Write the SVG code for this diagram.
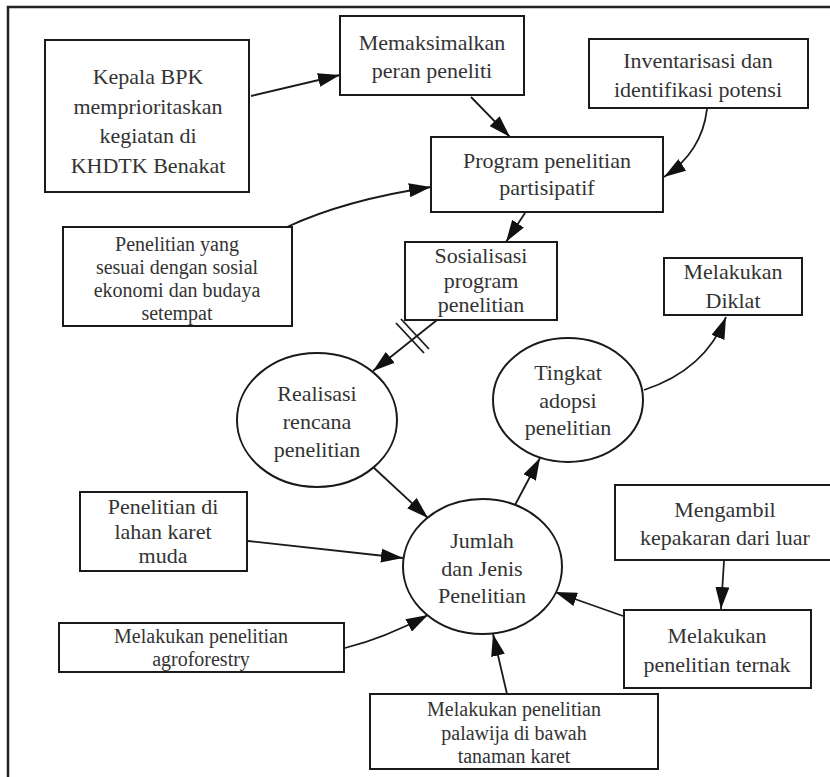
<svg xmlns="http://www.w3.org/2000/svg" width="830" height="777" viewBox="0 0 830 777">
<defs>
<style>
.box{fill:#fff;stroke:#1a1a1a;stroke-width:2}
.t{font-family:"Liberation Serif","Times New Roman",serif;font-size:22px;fill:#333;text-anchor:middle}
.s{font-size:20px}
.c{fill:none;stroke:#1a1a1a;stroke-width:1.8}
.frame{fill:none;stroke:#222;stroke-width:2.5}
</style>
<marker id="ah" markerUnits="userSpaceOnUse" markerWidth="22" markerHeight="14" refX="22" refY="7" orient="auto" viewBox="0 0 22 14">
<path d="M0,0 L22,7 L0,14 z" fill="#111"/>
</marker>
</defs>
<rect width="830" height="777" fill="#fff"/>
<path class="frame" d="M8,777 V7 H830"/>

<g id="connectors">
<line class="c" x1="251" y1="96" x2="340" y2="75" marker-end="url(#ah)"/>
<line class="c" x1="471" y1="97" x2="510" y2="137" marker-end="url(#ah)"/>
<path class="c" d="M707,109 Q702,152 664,177" marker-end="url(#ah)"/>
<path class="c" d="M287,227 Q345,200 431,187" marker-end="url(#ah)"/>
<line class="c" x1="525" y1="213" x2="506" y2="242" marker-end="url(#ah)"/>
<line class="c" x1="437" y1="320" x2="373" y2="371" marker-end="url(#ah)"/>
<line class="c" x1="396" y1="323" x2="424" y2="353"/>
<line class="c" x1="401" y1="319" x2="429" y2="349"/>
<line class="c" x1="373" y1="467" x2="428" y2="518" marker-end="url(#ah)"/>
<line class="c" x1="515" y1="505" x2="540" y2="458" marker-end="url(#ah)"/>
<path class="c" d="M644,390 Q705,370 726,317" marker-end="url(#ah)"/>
<line class="c" x1="248" y1="541" x2="403" y2="558" marker-end="url(#ah)"/>
<path class="c" d="M345,648 Q385,638 428,615" marker-end="url(#ah)"/>
<line class="c" x1="724" y1="561" x2="721" y2="609" marker-end="url(#ah)"/>
<line class="c" x1="623" y1="616" x2="555" y2="592" marker-end="url(#ah)"/>
<line class="c" x1="507" y1="694" x2="493" y2="634" marker-end="url(#ah)"/>
</g>

<g id="kepala">
<rect class="box" x="45" y="40" width="204" height="152"/>
<text class="t" x="148" y="84">Kepala BPK</text>
<text class="t" x="148" y="114">memprioritaskan</text>
<text class="t" x="148" y="143">kegiatan di</text>
<text class="t" x="148" y="173">KHDTK Benakat</text>
</g>

<g id="memaksimalkan">
<rect class="box" x="340" y="16" width="184" height="79"/>
<text class="t" x="432" y="50">Memaksimalkan</text>
<text class="t" x="432" y="78">peran peneliti</text>
</g>

<g id="inventarisasi">
<rect class="box" x="589" y="39" width="219" height="69"/>
<text class="t" x="698" y="68">Inventarisasi dan</text>
<text class="t" x="698" y="97">identifikasi potensi</text>
</g>

<g id="program">
<rect class="box" x="431" y="137" width="232" height="75"/>
<text class="t" x="547" y="168">Program penelitian</text>
<text class="t" x="547" y="195">partisipatif</text>
</g>

<g id="sesuai">
<rect class="box" x="63" y="227" width="229" height="99"/>
<text class="t s" x="177" y="251">Penelitian yang</text>
<text class="t s" x="177" y="274">sesuai dengan sosial</text>
<text class="t s" x="177" y="297">ekonomi dan budaya</text>
<text class="t s" x="177" y="320">setempat</text>
</g>

<g id="sosialisasi">
<rect class="box" x="405" y="242" width="152" height="78"/>
<text class="t" x="481" y="263">Sosialisasi</text>
<text class="t" x="481" y="288">program</text>
<text class="t" x="481" y="312">penelitian</text>
</g>

<g id="diklat">
<rect class="box" x="664" y="258" width="138" height="57"/>
<text class="t" x="733" y="279">Melakukan</text>
<text class="t" x="733" y="308">Diklat</text>
</g>

<g id="realisasi">
<ellipse class="box" cx="317" cy="420" rx="80" ry="67"/>
<text class="t" x="317" y="401">Realisasi</text>
<text class="t" x="317" y="429">rencana</text>
<text class="t" x="317" y="457">penelitian</text>
</g>

<g id="tingkat">
<ellipse class="box" cx="568" cy="400" rx="75" ry="62"/>
<text class="t" x="568" y="380">Tingkat</text>
<text class="t" x="568" y="408">adopsi</text>
<text class="t" x="568" y="435">penelitian</text>
</g>

<g id="jumlah">
<ellipse class="box" cx="482.5" cy="566.5" rx="79.5" ry="67.5"/>
<text class="t" x="482" y="548">Jumlah</text>
<text class="t" x="482" y="576">dan Jenis</text>
<text class="t" x="482" y="603">Penelitian</text>
</g>

<g id="lahan">
<rect class="box" x="80" y="492" width="167" height="79"/>
<text class="t" x="163" y="514">Penelitian di</text>
<text class="t" x="163" y="539">lahan karet</text>
<text class="t" x="163" y="563">muda</text>
</g>

<g id="agroforestry">
<rect class="box" x="59" y="623" width="285" height="49"/>
<text class="t s" x="201" y="643">Melakukan penelitian</text>
<text class="t s" x="201" y="666">agroforestry</text>
</g>

<g id="mengambil">
<rect class="box" x="615" y="485" width="219" height="75"/>
<text class="t" x="725" y="517">Mengambil</text>
<text class="t" x="725" y="545">kepakaran dari luar</text>
</g>

<g id="ternak">
<rect class="box" x="624" y="610" width="187" height="78"/>
<text class="t" x="717" y="643">Melakukan</text>
<text class="t" x="717" y="672">penelitian ternak</text>
</g>

<g id="palawija">
<rect class="box" x="370" y="694" width="288" height="75"/>
<text class="t s" x="514" y="716">Melakukan penelitian</text>
<text class="t s" x="514" y="740">palawija di bawah</text>
<text class="t s" x="514" y="763">tanaman karet</text>
</g>
</svg>
